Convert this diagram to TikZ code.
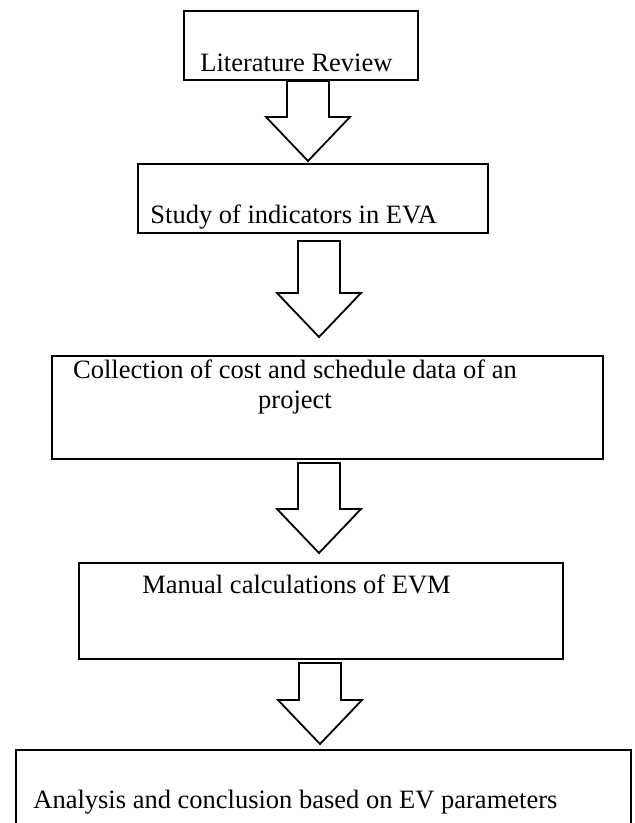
\documentclass[tikz,border=0pt]{standalone}
\usepackage{fontspec}
\setmainfont{Liberation Serif}
\usetikzlibrary{calc}

\tikzset{
  stagebox/.style={draw, line width=1pt, rectangle, inner sep=0pt, anchor=north west},
  stagetext/.style={inner sep=0pt, font=\fontsize{13.25}{15}\selectfont},
  blockarrow/.style={draw, line width=0.9pt, fill=white, line join=miter},
}

% hollow down arrow: #1 = top of shaft, #2 = tip
\newcommand{\bigdownarrow}[2]{%
  \draw[blockarrow] let \p1=(#1), \p2=(#2) in
    (\x2-10.5pt,\y1) -- (\x2-10.5pt,\y2+22pt) -- (\x2-21pt,\y2+22pt) -- (\x2,\y2)
    -- (\x2+21pt,\y2+22pt) -- (\x2+10.5pt,\y2+22pt) -- (\x2+10.5pt,\y1) -- cycle;}

\begin{document}
\begin{tikzpicture} [x=0.5pt, y=-0.5pt]

% page
\clip (0,0) rectangle (635,823);

% boxes
\node[stagebox, minimum width=117pt, minimum height=34.5pt] (lit) at (183,10) {};
\node[stagebox, minimum width=175pt, minimum height=34.5pt] (study) at (137,163) {};
\node[stagebox, minimum width=275.5pt, minimum height=51.5pt] (collect) at (51,355) {};
\node[stagebox, minimum width=242pt, minimum height=48pt] (manual) at (78,562) {};
\node[stagebox, minimum width=307.5pt, minimum height=42pt] (analysis) at (15,749) {};

% texts
\node[stagetext, anchor=base west] (littext) at (200,72) {Literature Review};
\node[stagetext, anchor=base west] (studytext) at (150,224) {Study of indicators in EVA};
\node[stagetext, anchor=base, align=center] (collecttext) at (295,408)
     {Collection of cost and schedule data of an\\ project};
\node[stagetext, anchor=base west] (manualtext) at (142,593) {Manual calculations of EVM};
\node[stagetext, anchor=base west] (analysistext) at (33,808)
     {Analysis and conclusion based on EV parameters};

% arrow tips
\coordinate (tip1) at (308,161);
\coordinate (tip2) at (319,337);
\coordinate (tip3) at (319,553);
\coordinate (tip4) at (320,744);

% arrows
\bigdownarrow{lit.south -| tip1}{tip1}
\bigdownarrow{$(study.south -| tip2)+(0,7)$}{tip2}
\bigdownarrow{$(collect.south -| tip3)+(0,3)$}{tip3}
\bigdownarrow{$(manual.south -| tip4)+(0,3)$}{tip4}

\end{tikzpicture}
\end{document}
